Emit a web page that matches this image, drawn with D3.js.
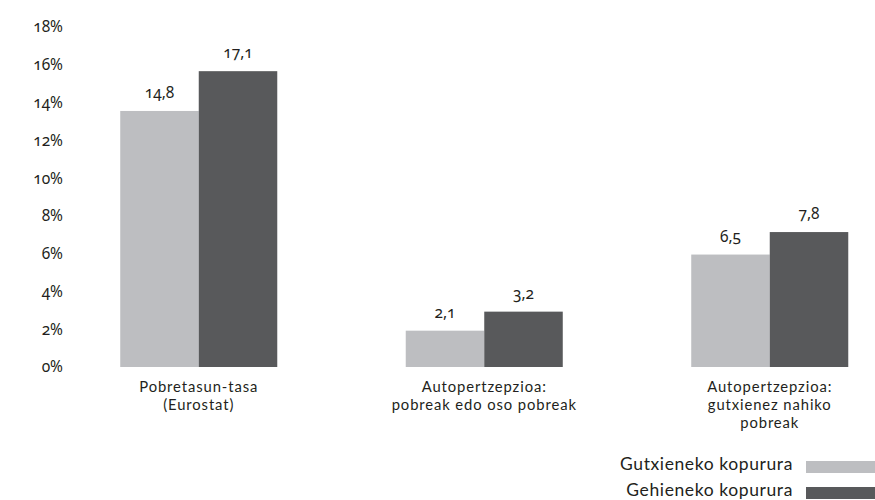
<!DOCTYPE html>
<html>
<head>
<meta charset="utf-8">
<script src="https://cdn.jsdelivr.net/npm/d3@7"></script>
<style>
  html, body { margin: 0; padding: 0; background: #fff; }
  svg { display: block; }
  text { font-family: "Noto Sans", "Open Sans", sans-serif; fill: #231f20; font-variant-numeric: oldstyle-nums; }
  text.cat, text.leg { font-family: Lato, "Noto Sans", sans-serif; }
</style>
</head>
<body>
<svg id="chart" width="875" height="500"></svg>
<script>
const categories = [
  ["Pobretasun-tasa", "(Eurostat)"],
  ["Autopertzepzioa:", "pobreak edo oso pobreak"],
  ["Autopertzepzioa:", "gutxienez nahiko", "pobreak"]
];
const seriesNames = ["Gutxieneko kopurura", "Gehieneko kopurura"];
const minValues = [14.8, 2.1, 6.5];
const maxValues = [17.1, 3.2, 7.8];
const valueLabels = [["14,8", "17,1"], ["2,1", "3,2"], ["6,5", "7,8"]];
const tickValues = [0, 2, 4, 6, 8, 10, 12, 14, 16, 18];
const colors = ["#bdbec1", "#58595b"];

const svg = d3.select("#chart");
const catKeys = categories.map(c => c.join(" "));

const x0 = d3.scaleBand().domain(catKeys).range([56, 912.5]).paddingInner(0.45).paddingOuter(0.225);
const x1 = d3.scaleBand().domain(seriesNames).range([0, x0.bandwidth()]);
const yBar = d3.scaleLinear().domain([0, 20]).range([367, 21]);
const yAxis = d3.scaleLinear().domain([0, 18]).range([367, 27]);

// Y axis labels
const ax = svg.append("g").attr("transform", "translate(66,0)")
  .call(d3.axisLeft(yAxis).tickValues(tickValues).tickFormat(d => d + "%").tickSize(0).tickPadding(3));
ax.select(".domain").remove();
ax.selectAll("text").style("font-family", '"Noto Sans", sans-serif').style("font-size", "15.5px")
  .style("font-variant-numeric", "oldstyle-nums").attr("fill", "#231f20");

const data = catKeys.map((k, i) => ({ key: k, vals: [minValues[i], maxValues[i]], labels: valueLabels[i], lines: categories[i] }));

const groups = svg.append("g").selectAll("g").data(data).join("g")
  .attr("transform", d => `translate(${x0(d.key)},0)`);

groups.selectAll("rect").data(d => d.vals.map((v, j) => ({ v, j, s: seriesNames[j] }))).join("rect")
  .attr("x", d => x1(d.s))
  .attr("width", x1.bandwidth())
  .attr("y", d => yBar(d.v))
  .attr("height", d => yBar(0) - yBar(d.v))
  .attr("fill", d => colors[d.j]);

groups.selectAll("text.val").data(d => d.vals.map((v, j) => ({ v, j, s: seriesNames[j], l: d.labels[j] }))).join("text")
  .attr("class", "val")
  .attr("x", d => x1(d.s) + x1.bandwidth() / 2)
  .attr("y", d => yBar(d.v) - 13)
  .attr("text-anchor", "middle")
  .style("font-size", "15.5px")
  .text(d => d.l);

// Category labels (one text per line)
groups.selectAll("text.cat").data(d => d.lines).join("text")
  .attr("class", "cat")
  .attr("text-anchor", "middle")
  .attr("x", x0.bandwidth() / 2)
  .attr("y", (d, i) => 392 + i * 18)
  .style("font-size", "14.8px")
  .style("letter-spacing", "0.9px")
  .text(d => d);

// Legend
const legend = svg.append("g");
seriesNames.forEach((name, i) => {
  const yy = 461 + i * 26;
  legend.append("rect").attr("x", 806).attr("y", yy).attr("width", 69).attr("height", 12).attr("fill", colors[i]);
  legend.append("text").attr("class", "leg").attr("x", 793).attr("y", yy + 9).attr("text-anchor", "end")
    .style("font-size", "17.5px").style("letter-spacing", "0.6px").text(name);
});
</script>
</body>
</html>
